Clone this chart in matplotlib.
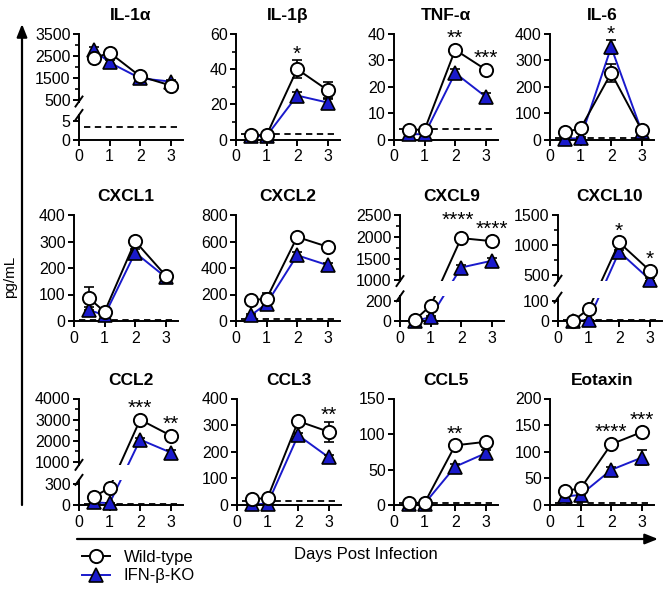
import numpy as np
import matplotlib.pyplot as plt
from matplotlib.lines import Line2D
from matplotlib.patches import Rectangle, FancyArrowPatch

plt.rcParams['font.family'] = ['Liberation Sans', 'DejaVu Sans']

# data (pg/mL), days 0.5, 1, 2, 3
days = [0.5, 1, 2, 3]
titles = ['IL-1α', 'IL-1β', 'TNF-α', 'IL-6',
          'CXCL1', 'CXCL2', 'CXCL9', 'CXCL10',
          'CCL2', 'CCL3', 'CCL5', 'Eotaxin']

wt_mean = [
    [2400, 2650, 1570, 1150],
    [2.5, 2.5, 40, 28],
    [3.7, 3.7, 34, 26.5],
    [28, 42, 252, 35],
    [85, 35, 301, 171],
    [156, 169, 634, 560],
    [15, 155, 1970, 1900],
    [2, 60, 1040, 570],
    [120, 250, 3000, 2250],
    [21, 27, 315, 275],
    [3, 3, 84, 89],
    [27, 31, 114, 137],
]
ko_mean = [
    [2750, 2200, 1480, 1330],
    [2, 2, 25, 21],
    [2, 2, 25.2, 16.2],
    [3, 5, 350, 30],
    [41, 22, 258, 165],
    [45, 131, 496, 421],
    [0, 40, 1295, 1450],
    [0, 5, 885, 420],
    [40, 25, 2060, 1450],
    [2, 5, 262, 179],
    [1, 2, 54, 73],
    [16, 19, 66, 89],
]
wt_err = [
    [150, 100, 80, 80],
    [0.5, 0.5, 5, 4.5],
    [0.3, 0.3, 1.5, 1.2],
    [8, 10, 35, 5],
    [45, 5, 12, 10],
    [15, 45, 20, 20],
    [5, 15, 60, 60],
    [2, 10, 40, 40],
    [20, 30, 100, 100],
    [3, 4, 10, 38],
    [0.5, 0.5, 4, 4],
    [3, 3, 6, 6],
]
ko_err = [
    [150, 100, 80, 80],
    [0.3, 0.3, 2, 2],
    [0.2, 0.2, 1.5, 1.5],
    [3, 3, 27, 5],
    [10, 5, 15, 10],
    [10, 30, 25, 20],
    [0, 10, 60, 60],
    [0, 2, 30, 30],
    [10, 5, 100, 100],
    [1, 2, 10, 10],
    [0.3, 0.3, 4, 4],
    [2, 2, 5, 14],
]
lod = [3.2, 3, 4, 5, 3, 15, 4, 3, 12, 15, 3, 3]
stars = [[], [(2, '*')], [(2, '**'), (3, '***')], [(2, '*')],
         [], [], [(2, '****'), (3, '****')], [(2, '*'), (3, '*')],
         [(2, '***'), (3, '**')], [(3, '**')], [(2, '**')], [(2, '****'), (3, '***')]]

# axis settings
ytop = [3500, 60, 40, 400, 400, 800, 2500, 1500, 4000, 400, 150, 200]
yticks = [[0, 5, 500, 1500, 2500, 3500], [0, 20, 40, 60], [0, 10, 20, 30, 40],
          [0, 100, 200, 300, 400], [0, 100, 200, 300, 400], [0, 200, 400, 600, 800],
          [0, 200, 1000, 1500, 2000, 2500], [0, 100, 500, 1000, 1500],
          [0, 300, 1000, 2000, 3000, 4000], [0, 100, 200, 300, 400],
          [0, 50, 100, 150], [0, 50, 100, 150, 200]]
yminor = [[1000, 2000, 3000], [10, 30, 50], [], [], [], [], [1250, 1750, 2250],
          [750, 1250], [1500, 2500, 3500], [], [], []]
# broken panels: lower top, upper bottom, fraction lower, fraction upper
breaks = {0: (6.5, 420, 0.233, 0.36), 6: (250, 985, 0.233, 0.377),
          7: (118, 400, 0.22, 0.38), 8: (362, 870, 0.236, 0.377)}
# CXCL9 day-2 stars sit higher and a bit left so the two groups don't touch
star_shift = {(6, 2): (-3, 6)}

W, H = 666, 589
col_x = [[79, 236, 394, 550], [74, 236, 400, 558], [79, 237, 394, 550]]
row_y = [(34, 139.5), (215, 321), (398.5, 505)]
pan_w = 104

blue = '#1a1acc'
lw = 1.4


def brk_funcs(l1, u0, u1, f1, f2):
    def fwd(y):
        y = np.asarray(y, dtype=float)
        return np.where(y <= l1, y / l1 * f1,
               np.where(y < u0, f1 + (y - l1) / (u0 - l1) * (f2 - f1),
                        f2 + (y - u0) / (u1 - u0) * (1 - f2)))

    def inv(t):
        t = np.asarray(t, dtype=float)
        return np.where(t <= f1, t / f1 * l1,
               np.where(t < f2, l1 + (t - f1) / (f2 - f1) * (u0 - l1),
                        u0 + (t - f2) / (1 - f2) * (u1 - u0)))
    return fwd, inv


fig = plt.figure(figsize=(W / 100, H / 100), dpi=100)

for i in range(12):
    r, c = divmod(i, 4)
    x0 = col_x[r][c]
    yt, yb = row_y[r]
    ax = fig.add_axes([x0 / W, 1 - yb / H, pan_w / W, (yb - yt) / H])
    ph = yb - yt

    if i in breaks:
        l1, u0, f1, f2 = breaks[i]
        ax.set_yscale('function', functions=brk_funcs(l1, u0, ytop[i], f1, f2))
    ax.set_xlim(0, 3.4)
    ax.set_ylim(0, ytop[i])

    for s in ['top', 'right']:
        ax.spines[s].set_visible(False)
    for s in ['left', 'bottom']:
        ax.spines[s].set_linewidth(1.4)

    ax.set_xticks([0, 1, 2, 3])
    ax.set_yticks(yticks[i])
    ax.set_yticks(yminor[i], minor=True)
    ax.tick_params(axis='both', which='major', length=4.5, width=1.4, labelsize=11.5)
    ax.tick_params(axis='y', which='major', pad=1.5)
    ax.tick_params(axis='x', which='major', pad=2.5)
    ax.tick_params(axis='y', which='minor', length=2.8, width=1.2)

    # limit of detection
    ax.plot([0.15, 3.35], [lod[i], lod[i]], color='black', lw=1.3,
            ls=(0, (3.5, 2.5)), zorder=1)

    ax.plot(days, ko_mean[i], color=blue, lw=lw, zorder=2)
    ax.plot(days, wt_mean[i], color='black', lw=lw, zorder=2.1)

    if i in breaks:
        l1, u0, f1, f2 = breaks[i]
        ax.spines['left'].set_visible(False)
        ax.add_patch(Rectangle((0.012, f1), 1.0, f2 - f1, transform=ax.transAxes,
                               facecolor='white', edgecolor='none', zorder=2.5,
                               clip_on=False))
        yt_tr = ax.get_yaxis_transform()
        ax.plot([0, 0], [0, l1], transform=yt_tr, color='black', lw=1.4,
                clip_on=False, zorder=5)
        ax.plot([0, 0], [u0, ytop[i]], transform=yt_tr, color='black', lw=1.4,
                clip_on=False, zorder=5)
        dx, dy = 3.5 / pan_w, 5.0 / ph
        for f in (f1, f2):
            ax.plot([-dx, dx], [f - dy, f + dy], transform=ax.transAxes,
                    color='black', lw=1.4, clip_on=False, zorder=5)

    ax.errorbar(days, ko_mean[i], yerr=ko_err[i], fmt='none', ecolor='black',
                elinewidth=1.2, capsize=3.8, capthick=1.2, zorder=3)
    ax.errorbar(days, wt_mean[i], yerr=wt_err[i], fmt='none', ecolor='black',
                elinewidth=1.2, capsize=3.8, capthick=1.2, zorder=3.2)
    ax.plot(days, ko_mean[i], ls='none', marker='^', ms=10, mfc=blue, mec='black',
            mew=1.2, zorder=4, clip_on=False)
    ax.plot(days, wt_mean[i], ls='none', marker='o', ms=9.5, mfc='white',
            mec='black', mew=1.4, zorder=4.2, clip_on=False)

    ax.set_title(titles[i], fontsize=12.5, fontweight='bold', pad=10)

    # significance stars above the higher point
    for d, txt in stars[i]:
        k = days.index(d)
        top_w = wt_mean[i][k] + wt_err[i][k]
        top_k = ko_mean[i][k] + ko_err[i][k]
        cen = ax.transData.transform([(d, max(wt_mean[i][k], ko_mean[i][k]))])[0][1]
        err = ax.transData.transform([(d, max(top_w, top_k))])[0][1]
        off = max(15.5, err - cen + 10.0) - 4.0
        sx, sy = star_shift.get((i, d), (0, 0))
        ax.annotate(txt, xy=(d, max(wt_mean[i][k], ko_mean[i][k])),
                    xytext=(sx * 0.72, (off + sy) * 0.72), textcoords='offset points',
                    ha='center', va='center', fontsize=15, zorder=6)

# outer axis arrows and labels
fig.add_artist(FancyArrowPatch((22 / W, 1 - 505 / H), (22 / W, 1 - 24 / H),
                               transform=fig.transFigure,
                               arrowstyle='-|>,head_length=0.55,head_width=0.22',
                               mutation_scale=14, lw=1.6, color='black',
                               shrinkA=0, shrinkB=0))
fig.add_artist(FancyArrowPatch((77 / W, 1 - 539 / H), (658 / W, 1 - 539 / H),
                               transform=fig.transFigure,
                               arrowstyle='-|>,head_length=0.55,head_width=0.22',
                               mutation_scale=14, lw=1.6, color='black',
                               shrinkA=0, shrinkB=0))
fig.text(10 / W, 1 - 277 / H, 'pg/mL', rotation=90, ha='center', va='center',
         fontsize=11)
fig.text(366 / W, 1 - 554 / H, 'Days Post Infection', ha='center', va='center',
         fontsize=12)

h_wt = Line2D([], [], color='black', lw=lw, marker='o', ms=9.5, mfc='white',
              mec='black', mew=1.4)
h_ko = Line2D([], [], color=blue, lw=lw, marker='^', ms=10, mfc=blue,
              mec='black', mew=1.2)
fig.legend([h_wt, h_ko], ['Wild-type', 'IFN-β-KO'], loc='upper left',
           bbox_to_anchor=(82 / W, 1 - 550 / H), frameon=False, fontsize=12,
           handlelength=1.7, handletextpad=0.8, labelspacing=0.2,
           borderpad=0, borderaxespad=0)

fig.savefig('out.png', dpi=100)
